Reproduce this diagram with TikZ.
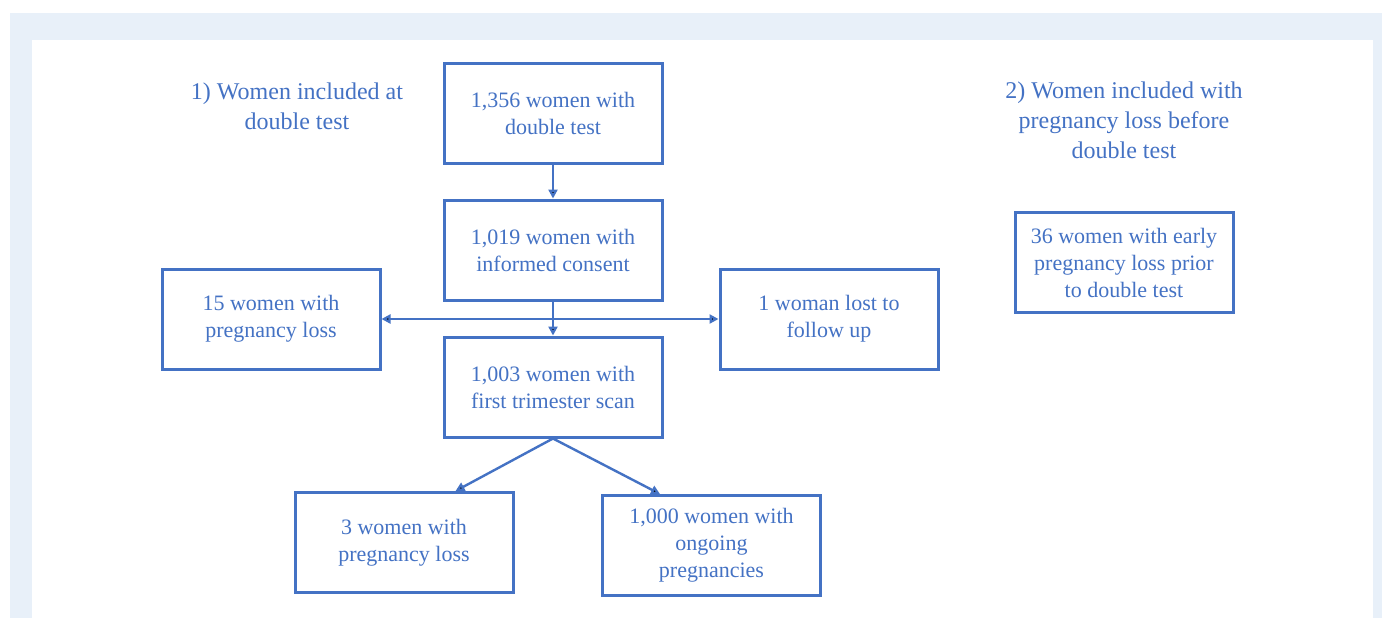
\documentclass[tikz,border=0pt]{standalone}
\usepackage{fontspec}
\setmainfont{Liberation Serif}
\usepackage{tikz}
\usetikzlibrary{arrows.meta}
\definecolor{flowblue}{HTML}{4472C4}
\definecolor{panelblue}{HTML}{E8F0F9}

\begin{document}
\begin{tikzpicture}[node distance=68.5pt,
  box/.style={draw=flowblue, line width=1.5pt, minimum width=109pt, minimum height=50pt,
    align=center, text=flowblue, font=\fontsize{11}{13.5}\selectfont},
  heading/.style={align=center, text=flowblue, font=\fontsize{12}{15}\selectfont},
  flow/.style={draw=flowblue, line width=1.2pt},
  >={Triangle[length=4.5pt,width=4.5pt]}]
 \useasboundingbox (0,0) rectangle (691pt,-309pt);
 \fill[panelblue] (5pt,-6.5pt) rectangle (691pt,-309pt);
 \fill[white] (16pt,-20pt) rectangle (686.5pt,-309pt);

 \node[name=test, box] at (276.5pt,-56.5pt) {1,356 women with\\double test};
 \node[name=consent, box, below of=test] {1,019 women with\\informed consent};
 \node[name=scan, box, below of=consent] {1,003 women with\\first trimester scan};
 \node[name=lossone, box, left of=consent, xshift=-72.5pt, yshift=-34.5pt] {15 women with\\pregnancy loss};
 \node[name=lost, box, right of=consent, xshift=69.5pt, yshift=-34.5pt] {1 woman lost to\\follow up};
 \node[name=losstwo, box, below of=scan, xshift=-74.5pt, yshift=-9.25pt] {3 women with\\pregnancy loss};
 \node[name=ongoing, box, below of=scan, xshift=79.25pt, yshift=-10.75pt] {1,000 women with\\ongoing\\pregnancies};
 \node[name=early, box, right of=test, xshift=217pt, yshift=-74.75pt] {36 women with early\\pregnancy loss prior\\to double test};

 \node[name=headone, heading, left of=test, xshift=-59.5pt, yshift=3.5pt] {1) Women included at\\double test};
 \node[name=headtwo, heading, right of=test, xshift=217pt, yshift=-3.75pt] {2) Women included with\\pregnancy loss before\\double test};

 \draw[flow] (test.south) edge[->] (consent.north);
 \draw[flow] (consent.south) edge[->] (scan.north);
 \draw[flow] (lossone.east) edge[<->] (lost.west);
 \draw[flow] (scan.south) edge[->] (losstwo.45);
 \draw[flow] (scan.south) edge[->] (ongoing.135);
\end{tikzpicture}
\end{document}
